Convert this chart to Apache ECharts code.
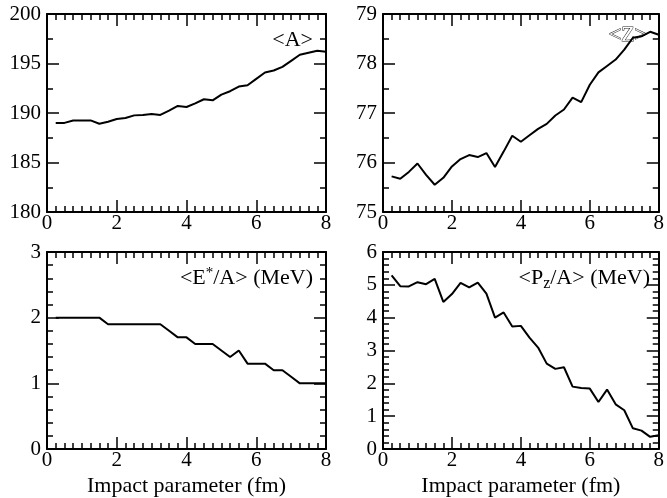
<!DOCTYPE html>
<html>
<head>
<meta charset="utf-8">
<script src="https://cdn.jsdelivr.net/npm/echarts@6/dist/echarts.min.js"></script>
<style>
  html, body { margin: 0; padding: 0; background: #fff; }
  #chart { width: 667px; height: 498px; }
</style>
</head>
<body>
<div id="chart"></div>
<script>
// Impact parameter b (fm) for every sample
const impact = [0.25, 0.5, 0.75, 1.0, 1.25, 1.5, 1.75, 2.0, 2.25, 2.5, 2.75, 3.0,
  3.25, 3.5, 3.75, 4.0, 4.25, 4.5, 4.75, 5.0, 5.25, 5.5, 5.75, 6.0,
  6.25, 6.5, 6.75, 7.0, 7.25, 7.5, 7.75, 8.0];

// <A> mean mass number
const massA = [189.0, 189.0, 189.25, 189.25, 189.25, 188.92, 189.12, 189.39, 189.49, 189.76, 189.8, 189.9,
  189.8, 190.24, 190.71, 190.61, 190.98, 191.39, 191.28, 191.86, 192.2, 192.67, 192.8, 193.45,
  194.09, 194.29, 194.66, 195.27, 195.88, 196.08, 196.28, 196.18];

// <Z> mean charge
const chargeZ = [75.72, 75.67, 75.81, 75.98, 75.75, 75.55, 75.69, 75.92, 76.07, 76.15, 76.11, 76.19,
  75.91, 76.22, 76.54, 76.42, 76.55, 76.68, 76.78, 76.95, 77.07, 77.31, 77.22, 77.57,
  77.82, 77.95, 78.08, 78.28, 78.52, 78.55, 78.64, 78.58];

// <E*/A> excitation energy per nucleon (MeV)
const excitation = [2.0, 2.0, 2.0, 2.0, 2.0, 2.0, 1.9, 1.9, 1.9, 1.9, 1.9, 1.9,
  1.9, 1.8, 1.7, 1.7, 1.6, 1.6, 1.6, 1.5, 1.4, 1.5, 1.3, 1.3,
  1.3, 1.2, 1.2, 1.1, 1.0, 1.0, 1.0, 1.0];

// <Pz/A> longitudinal momentum per nucleon (MeV)
const momentum = [5.29, 4.96, 4.95, 5.08, 5.02, 5.18, 4.48, 4.72, 5.06, 4.92, 5.07, 4.73,
  4.0, 4.16, 3.73, 3.75, 3.39, 3.09, 2.6, 2.44, 2.49, 1.9, 1.86, 1.84,
  1.43, 1.81, 1.36, 1.18, 0.63, 0.56, 0.37, 0.42];

// y ranges per panel: [min, max, major step, minor splits]
const yRanges = [
  [180, 200, 5, 2],
  [75, 79, 1, 2],
  [0, 3, 1, 5],
  [0, 6, 1, 5]
];
const xRange = [0, 8, 2, 8];
const xTitle = 'Impact parameter (fm)';

const FONT = 'Liberation Serif';
const grids = [
  { left: 47, top: 14, width: 279, height: 198 },
  { left: 383, top: 14, width: 278, height: 198 },
  { left: 47, top: 252, width: 279, height: 197 },
  { left: 383, top: 252, width: 278, height: 197 }
];

const lineCol = '#000';
function frameAxis(extra) {
  return Object.assign({
    type: 'value',
    axisLine: { show: true, onZero: false, lineStyle: { color: lineCol, width: 2 } },
    axisTick: { show: true, inside: true, length: 12, lineStyle: { color: lineCol, width: 1.5 } },
    minorTick: { show: true, length: 6, lineStyle: { color: lineCol, width: 1.5 } },
    splitLine: { show: false },
    minorSplitLine: { show: false }
  }, extra);
}

const xAxes = [], yAxes = [];
grids.forEach((g, i) => {
  const bottomRow = i >= 2;
  ['bottom', 'top'].forEach(pos => {
    const ax = frameAxis({
      gridIndex: i, position: pos,
      min: xRange[0], max: xRange[1], interval: xRange[2],
      axisLabel: { show: pos === 'bottom', color: '#000', fontFamily: FONT, fontSize: 21, margin: 1 }
    });
    ax.minorTick.splitNumber = xRange[3];
    if (pos === 'bottom' && bottomRow) {
      ax.name = xTitle;
      ax.nameLocation = 'middle';
      ax.nameGap = 26;
      ax.nameTextStyle = { color: '#000', fontFamily: FONT, fontSize: 22, verticalAlign: 'top' };
    }
    xAxes.push(ax);
  });
  const r = yRanges[i];
  ['left', 'right'].forEach(pos => {
    const ay = frameAxis({
      gridIndex: i, position: pos,
      min: r[0], max: r[1], interval: r[2],
      axisLabel: { show: pos === 'left', color: '#000', fontFamily: FONT, fontSize: 21, margin: 6 }
    });
    ay.minorTick.splitNumber = r[3];
    yAxes.push(ay);
  });
});

const seriesData = [massA, chargeZ, excitation, momentum];
const series = seriesData.map((vals, i) => ({
  type: 'line',
  xAxisIndex: i * 2,
  yAxisIndex: i * 2,
  data: impact.map((b, k) => [b, vals[k]]),
  showSymbol: false,
  symbol: 'none',
  lineStyle: { color: '#000', width: 2 },
  z: 3
}));

// superscript / subscript pieces: shifted by unequal top/bottom padding
const supStyle = { fontFamily: FONT, fontSize: 15, color: '#000', lineHeight: 15, verticalAlign: 'middle', padding: [0, 0, 9, 0] };
const subStyle = { fontFamily: FONT, fontSize: 16, color: '#000', lineHeight: 16, verticalAlign: 'middle', padding: [11, 0, 0, 0] };
const baseText = { color: '#000', fontFamily: FONT, fontSize: 22, fontWeight: 'normal', lineHeight: 24 };
const titles = [
  { text: '<A>', right: 354, top: 28, textStyle: Object.assign({}, baseText) },
  { text: '<Z>', right: 19, top: 23, z: 1,
    textStyle: Object.assign({}, baseText, { color: '#fff', textBorderColor: '#222', textBorderWidth: 1 }) },
  { text: '<E{sup|*}/A> (MeV)', right: 354, top: 266,
    textStyle: Object.assign({}, baseText, { rich: { sup: supStyle } }) },
  { text: '<P{sub|z}/A> (MeV)', right: 17, top: 266,
    textStyle: Object.assign({}, baseText, { rich: { sub: subStyle } }) }
].map(t => Object.assign({ padding: 0, itemGap: 0 }, t));

const chart = echarts.init(document.getElementById('chart'), null, { renderer: 'canvas' });
chart.setOption({
  animation: false,
  backgroundColor: '#fff',
  title: titles,
  grid: grids,
  xAxis: xAxes,
  yAxis: yAxes,
  series: series
});
</script>
</body>
</html>
